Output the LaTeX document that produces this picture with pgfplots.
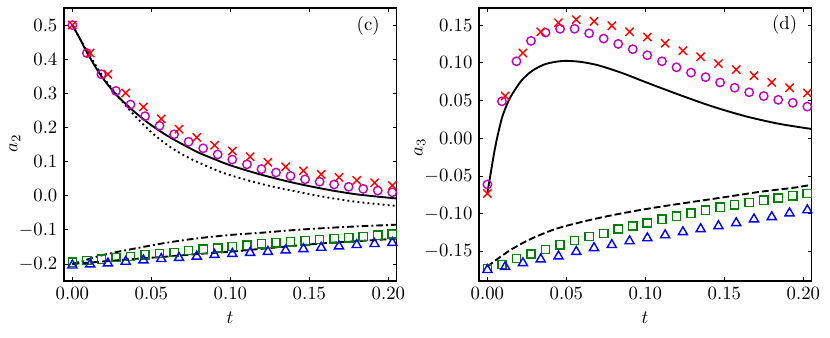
\documentclass[border=0pt]{standalone}
\usepackage{pgfplots}
\pgfplotsset{compat=1.18}
\definecolor{mplmag}{rgb}{0.75,0,0.75}
\definecolor{mplgreen}{rgb}{0,0.5,0}

% 1 px of the reference = 0.5333pt
\pgfplotsset{
  panel/.style={
    scale only axis, width=177.1pt, height=145.6pt,
    xmin=-0.0053, xmax=0.2049,
    xtick={0,0.05,0.1,0.15,0.2},
    scaled x ticks=false, scaled y ticks=false,
    xticklabel style={/pgf/number format/fixed,/pgf/number format/fixed zerofill,/pgf/number format/precision=2},
    tick align=inside, major tick length=1.9pt,
    every tick/.style={black, line width=0.5pt},
    axis line style={line width=0.6pt},
    xlabel={$t$},
    every axis x label/.style={at={(axis description cs:0.5,-0.135)}, anchor=center},
    clip=true,
  },
  solidc/.style={black, line width=1pt, smooth, no marks},
  dotc/.style={black, line width=1pt, smooth, no marks, dash pattern=on 1pt off 1.7pt},
  dashdotc/.style={black, line width=1pt, smooth, no marks, dash pattern=on 3.6pt off 1.6pt on 1pt off 1.6pt},
  dashc/.style={black, line width=1pt, smooth, no marks, dash pattern=on 3.7pt off 1.6pt},
  xm/.style={only marks, red, mark=x, mark size=3.1pt, mark options={line width=0.75pt}},
  om/.style={only marks, mplmag, mark=o, mark size=2.25pt, mark options={line width=0.75pt}},
  sqm/.style={only marks, mplgreen, mark=square, mark size=2.2pt, mark options={line width=0.75pt}},
  trm/.style={only marks, blue, mark=triangle, mark size=2.8pt, mark options={line width=0.75pt}},
}

\begin{document}
\begin{tikzpicture}
\useasboundingbox (-34.13pt,-29.87pt) rectangle (408.5pt,149.87pt);

% ---------- panel (c)
\begin{axis}[panel, at={(0,0)}, anchor=south west,
    ymin=-0.25, ymax=0.55,
    ytick={-0.2,-0.1,0,0.1,0.2,0.3,0.4,0.5},
    yticklabel style={/pgf/number format/fixed,/pgf/number format/fixed zerofill,/pgf/number format/precision=1},
    ylabel={$a_2$},
    every axis y label/.style={at={(axis description cs:-0.148,0.505)}, rotate=90, anchor=center},
]
\addplot[solidc] coordinates {
(0,0.500)(0.005,0.458)(0.0091,0.421)(0.0175,0.356)(0.027,0.300)(0.038,0.251)
(0.049,0.210)(0.060,0.176)(0.070,0.150)(0.080,0.126)(0.090,0.107)(0.100,0.089)
(0.120,0.061)(0.140,0.038)(0.160,0.019)(0.180,0.004)(0.205,-0.008)};
\addplot[dotc] coordinates {
(0,0.500)(0.01,0.418)(0.02,0.345)(0.03,0.285)(0.04,0.232)(0.05,0.186)(0.06,0.149)
(0.07,0.120)(0.08,0.097)(0.09,0.077)(0.1,0.060)(0.12,0.034)(0.14,0.014)
(0.16,-0.004)(0.18,-0.018)(0.205,-0.030)};
\addplot[dashdotc] coordinates {
(0,-0.200)(0.0074,-0.190)(0.0158,-0.178)(0.026,-0.167)(0.037,-0.157)(0.058,-0.139)
(0.079,-0.125)(0.1,-0.115)(0.121,-0.108)(0.142,-0.100)(0.163,-0.094)(0.184,-0.089)(0.205,-0.085)};
\addplot[dashc] coordinates {
(0,-0.200)(0.016,-0.194)(0.037,-0.186)(0.058,-0.179)(0.079,-0.171)(0.1,-0.164)
(0.121,-0.155)(0.142,-0.146)(0.163,-0.138)(0.184,-0.132)(0.205,-0.126)};
\addplot[om] coordinates {
(0,0.500)(0.0092,0.418)(0.0184,0.356)(0.0276,0.307)(0.0368,0.267)(0.046,0.233)
(0.0552,0.205)(0.0644,0.180)(0.0736,0.158)(0.0828,0.139)(0.0920,0.121)(0.1012,0.106)
(0.1105,0.092)(0.1197,0.078)(0.1289,0.068)(0.1381,0.058)(0.1473,0.048)(0.1565,0.041)
(0.1657,0.033)(0.1749,0.026)(0.1841,0.020)(0.1933,0.015)(0.2025,0.010)};
\addplot[xm] coordinates {
(0,0.500)(0.01125,0.418)(0.0225,0.356)(0.03375,0.301)(0.045,0.260)(0.05625,0.225)
(0.0675,0.195)(0.07875,0.171)(0.09,0.148)(0.10125,0.131)(0.1125,0.114)(0.12375,0.098)
(0.135,0.085)(0.14625,0.073)(0.1575,0.063)(0.16875,0.054)(0.18,0.045)(0.19125,0.038)(0.2025,0.030)};
\addplot[sqm] coordinates {
(0,-0.195)(0.0092,-0.190)(0.0184,-0.186)(0.0276,-0.181)(0.0368,-0.178)(0.046,-0.173)
(0.0552,-0.169)(0.0644,-0.166)(0.0736,-0.161)(0.0828,-0.157)(0.0920,-0.153)(0.1012,-0.149)
(0.1105,-0.145)(0.1197,-0.141)(0.1289,-0.138)(0.1381,-0.135)(0.1473,-0.132)(0.1565,-0.128)
(0.1657,-0.126)(0.1749,-0.123)(0.1841,-0.120)(0.1933,-0.116)(0.2025,-0.112)};
\addplot[trm] coordinates {
(0,-0.204)(0.01125,-0.201)(0.0225,-0.198)(0.03375,-0.193)(0.045,-0.189)(0.05625,-0.185)
(0.0675,-0.182)(0.07875,-0.178)(0.09,-0.173)(0.10125,-0.170)(0.1125,-0.167)(0.12375,-0.164)
(0.135,-0.160)(0.14625,-0.156)(0.1575,-0.152)(0.16875,-0.148)(0.18,-0.144)(0.19125,-0.141)(0.2025,-0.138)};
\node at (rel axis cs:0.916,0.934) {(c)};
\end{axis}

% ---------- panel (d)
\begin{axis}[panel, at={(221.33pt,0)}, anchor=south west,
    ymin=-0.1888, ymax=0.1725,
    ytick={-0.15,-0.1,-0.05,0,0.05,0.1,0.15},
    yticklabel style={/pgf/number format/fixed,/pgf/number format/fixed zerofill,/pgf/number format/precision=2},
    ylabel={$a_3$},
    every axis y label/.style={at={(axis description cs:-0.178,0.49)}, rotate=90, anchor=center},
]
\addplot[solidc] coordinates {
(0,-0.072)(0.0021,-0.046)(0.0042,-0.020)(0.0063,0.002)(0.0095,0.029)(0.0137,0.051)
(0.018,0.066)(0.0222,0.078)(0.0285,0.0896)(0.037,0.0985)(0.0475,0.1024)(0.058,0.1015)
(0.0686,0.0975)(0.079,0.091)(0.0897,0.083)(0.1,0.0745)(0.121,0.058)(0.142,0.0425)
(0.163,0.0295)(0.184,0.0195)(0.205,0.0125)};
\addplot[dashc] coordinates {
(0,-0.170)(0.0038,-0.1635)(0.0144,-0.148)(0.0249,-0.1357)(0.0354,-0.126)(0.046,-0.118)
(0.067,-0.107)(0.0882,-0.098)(0.109,-0.0906)(0.130,-0.084)(0.1515,-0.0774)
(0.1726,-0.0707)(0.1937,-0.0654)(0.205,-0.0615)};
\addplot[om] coordinates {
(0,-0.061)(0.0092,0.049)(0.0184,0.102)(0.0276,0.129)(0.0368,0.140)(0.046,0.145)
(0.0552,0.145)(0.0644,0.139)(0.0736,0.132)(0.0828,0.125)(0.0920,0.118)(0.1012,0.110)
(0.1105,0.102)(0.1197,0.094)(0.1289,0.087)(0.1381,0.081)(0.1473,0.074)(0.1565,0.067)
(0.1657,0.061)(0.1749,0.056)(0.1841,0.051)(0.1933,0.047)(0.2025,0.042)};
\addplot[xm] coordinates {
(0,-0.073)(0.01125,0.056)(0.0225,0.113)(0.03375,0.141)(0.045,0.153)(0.05625,0.157)
(0.0675,0.155)(0.07875,0.149)(0.09,0.141)(0.10125,0.134)(0.1125,0.126)(0.12375,0.116)
(0.135,0.108)(0.14625,0.099)(0.1575,0.091)(0.16875,0.083)(0.18,0.074)(0.19125,0.067)(0.2025,0.060)};
\addplot[sqm] coordinates {
(0,-0.172)(0.0092,-0.167)(0.0184,-0.159)(0.0276,-0.153)(0.0368,-0.147)(0.046,-0.141)
(0.0552,-0.135)(0.0644,-0.130)(0.0736,-0.126)(0.0828,-0.120)(0.0920,-0.116)(0.1012,-0.112)
(0.1105,-0.107)(0.1197,-0.103)(0.1289,-0.099)(0.1381,-0.095)(0.1473,-0.091)(0.1565,-0.088)
(0.1657,-0.085)(0.1749,-0.082)(0.1841,-0.079)(0.1933,-0.076)(0.2025,-0.073)};
\addplot[trm] coordinates {
(0,-0.174)(0.01125,-0.170)(0.0225,-0.165)(0.03375,-0.160)(0.045,-0.156)(0.05625,-0.150)
(0.0675,-0.145)(0.07875,-0.141)(0.09,-0.136)(0.10125,-0.132)(0.1125,-0.128)(0.12375,-0.124)
(0.135,-0.120)(0.14625,-0.116)(0.1575,-0.112)(0.16875,-0.107)(0.18,-0.104)(0.19125,-0.099)(0.2025,-0.095)};
\node at (rel axis cs:0.92,0.938) {(d)};
\end{axis}
\end{tikzpicture}
\end{document}
